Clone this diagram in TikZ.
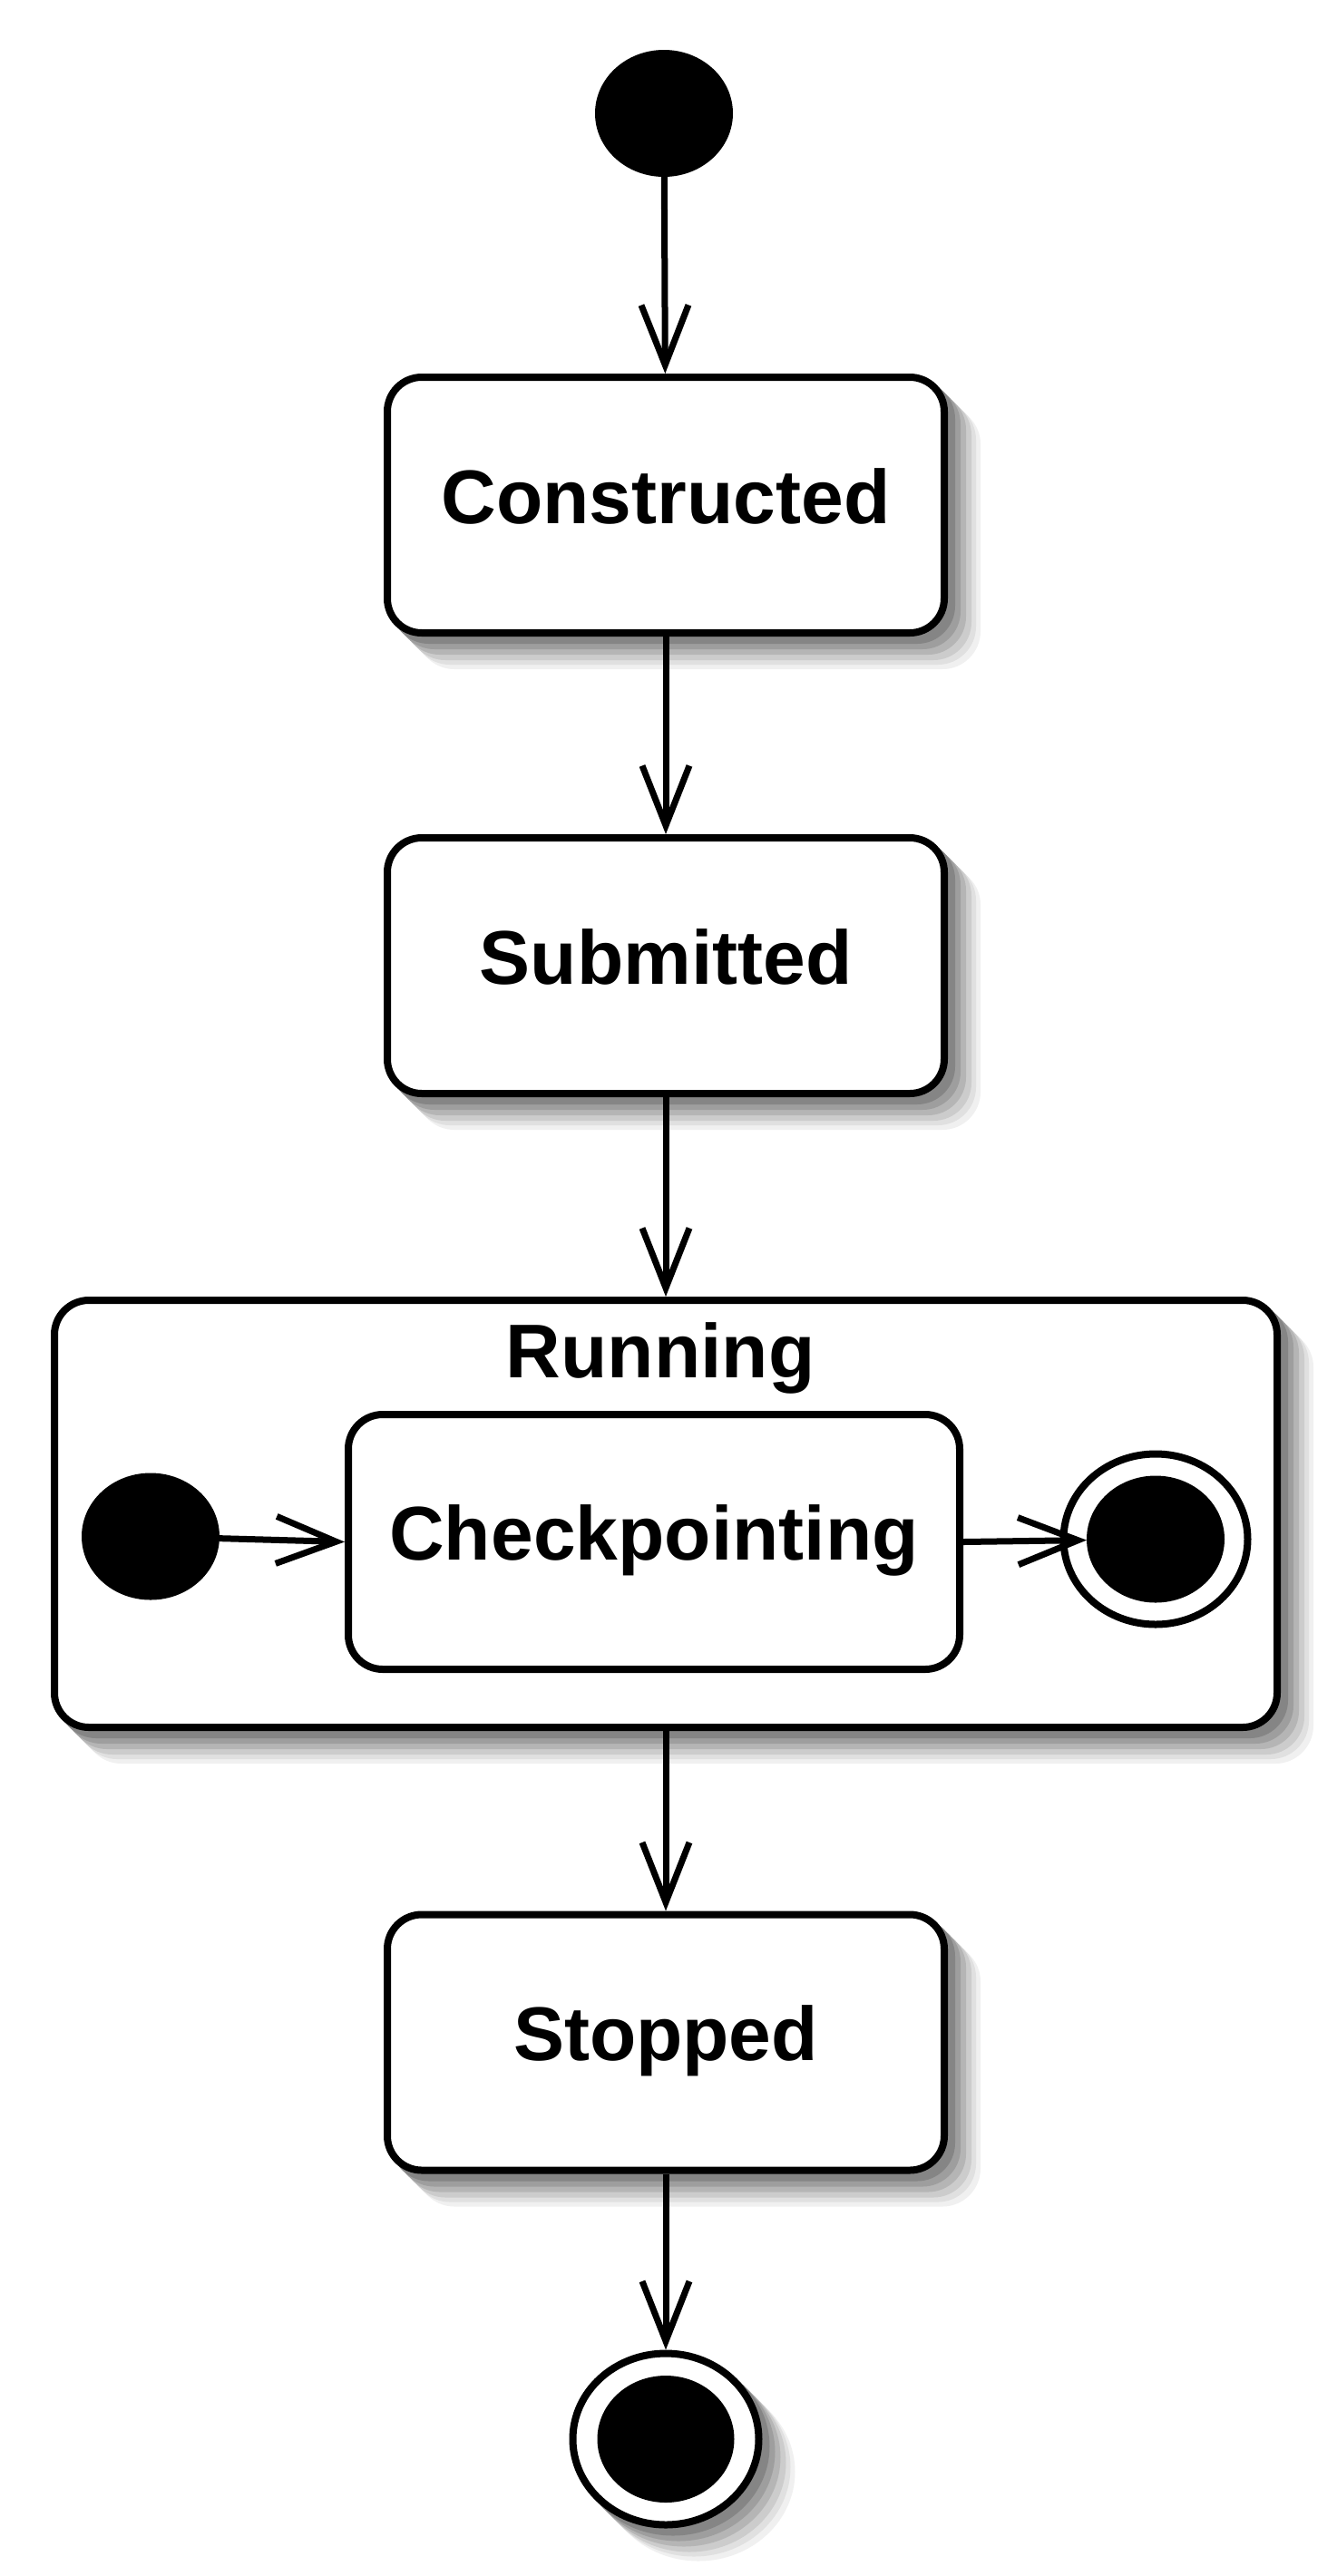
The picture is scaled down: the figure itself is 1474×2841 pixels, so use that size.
\documentclass[tikz,border=0pt]{standalone}
\usepackage{fontspec}
\setmainfont{Liberation Sans}
\usetikzlibrary{arrows.meta,shapes.geometric}
\tikzset{
  shlayer/.style 2 args={preaction={fill=black!#2, draw=black!#2, line width=8pt, transform canvas={xshift=#1pt, yshift=-#1pt}}},
  dropsh/.style={shlayer={36}{6}, shlayer={31}{12}, shlayer={26}{20}, shlayer={20}{29}, shlayer={14}{38}, shlayer={8}{48}},
  statebox/.style={rectangle, draw=black, line width=8pt, fill=white, rounded corners=38pt,
    minimum width=614pt, minimum height=282pt, text height=62pt, text depth=22pt, inner sep=0pt},
  compbox/.style={rectangle, draw=black, line width=8pt, fill=white, rounded corners=38pt,
    minimum width=1348pt, minimum height=471pt, inner sep=0pt},
  initst/.style={ellipse, fill=black, draw=none, minimum width=152pt, minimum height=140pt, inner sep=0pt, outer sep=0pt},
  finring/.style={ellipse, draw=black, line width=8pt, fill=white, minimum width=203pt, minimum height=188pt, inner sep=0pt},
  tr/.style={-{Straight Barb[length=66pt,width=52pt,sharp]}, line width=7pt, draw=black}
}
\begin{document}
\begin{tikzpicture}[x=1pt,y=-1pt,
  every node/.style={font=\fontsize{84}{100}\selectfont\bfseries}]
\path[use as bounding box, fill=white] (0,0) rectangle (1474,2841);

\node[initst] (start) at (732,125) {};
\node[statebox, dropsh] (cons) at (734,557) {Constructed};
\node[statebox, dropsh] (subm) at (734,1065) {Submitted};
\node[compbox, dropsh] (run) at (734,1669.5) {};
\node[anchor=base] (runlbl) at (728,1519) {Running};
\node[initst] (rinit) at (166,1694.5) {};
\node[statebox, minimum width=674pt, minimum height=281pt] (ckpt) at (721,1700.5) {Checkpointing};
\node[finring] (rfin) at (1274,1697.5) {};
\node[initst] (rfindot) at (1274,1697.5) {};
\node[statebox, dropsh] (stop) at (734,2252.5) {Stopped};
\node[finring, dropsh, minimum width=205pt, minimum height=189pt] (fin) at (734,2690) {};
\node[initst, minimum width=151pt] (findot) at (734,2690) {};

\draw[tr] (start) -- (cons);
\draw[tr] (cons) -- (subm);
\draw[tr] (subm) -- (run);
\draw[tr] (run) -- (stop);
\draw[tr] (stop) -- (fin);
\draw[tr] (rinit) -- (ckpt.west);
\draw[tr] (ckpt.east) -- (rfindot);
\end{tikzpicture}
\end{document}
